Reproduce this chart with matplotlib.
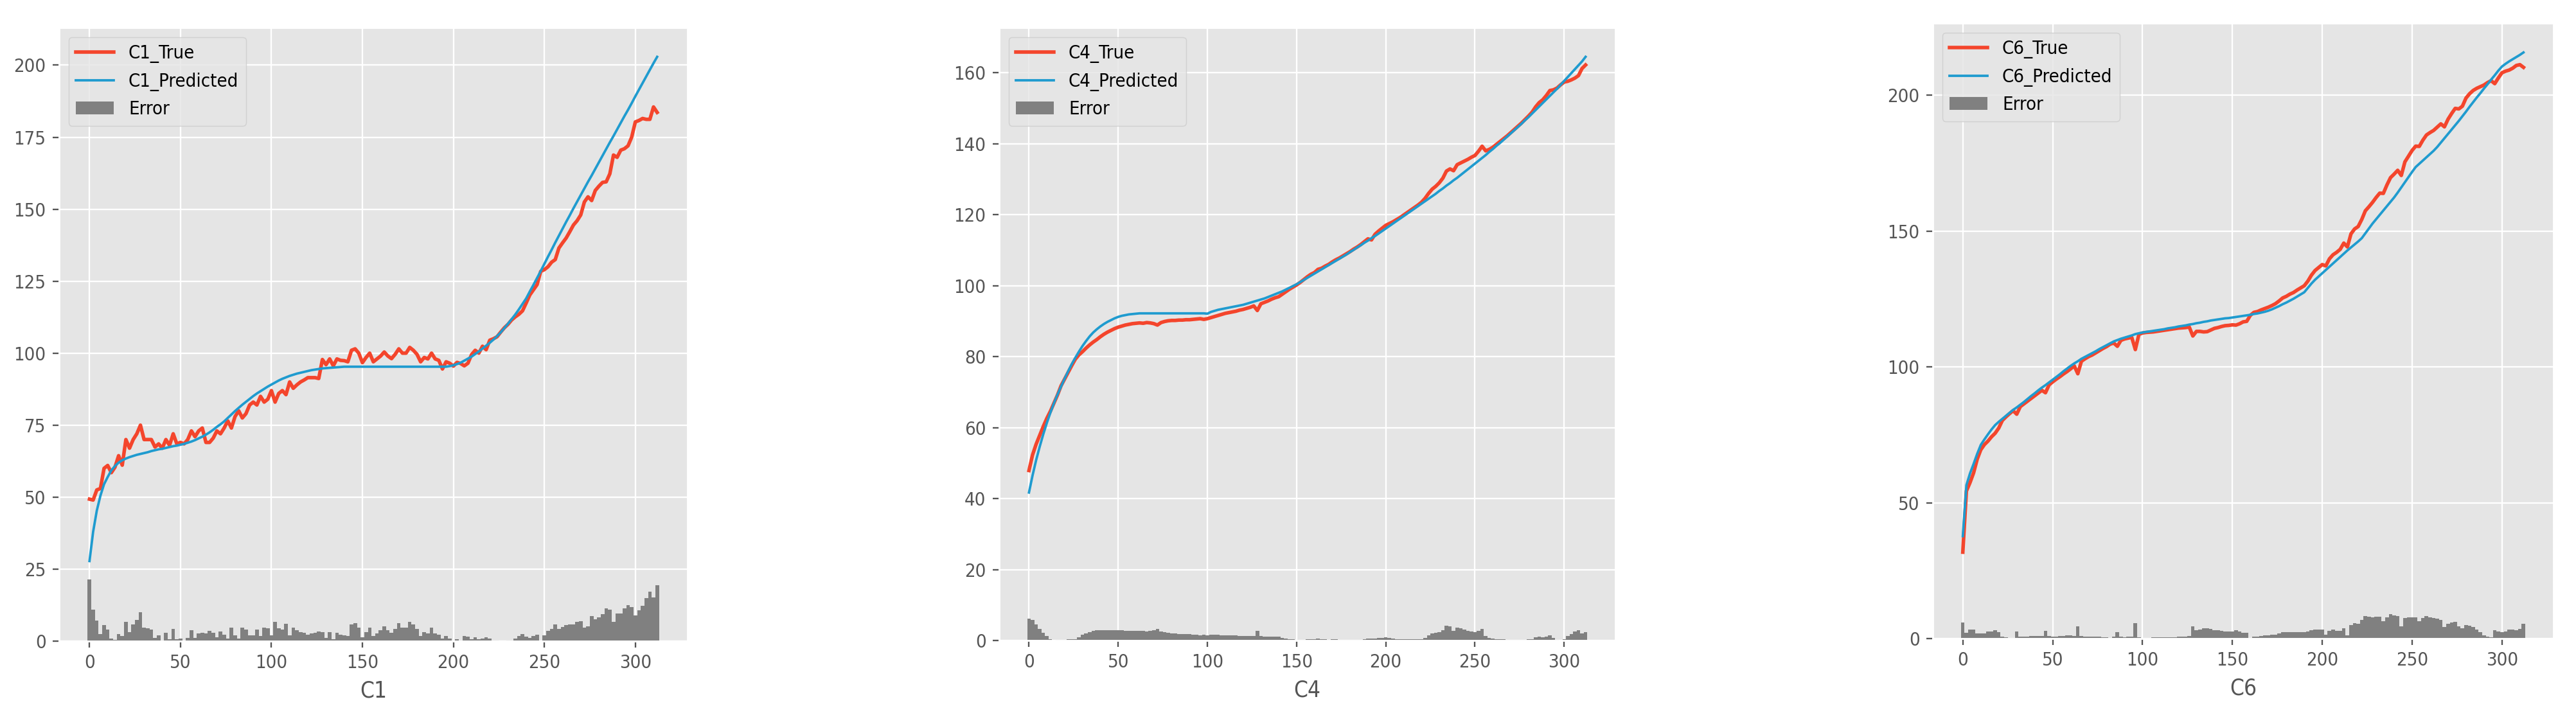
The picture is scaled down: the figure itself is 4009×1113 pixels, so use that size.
import numpy as np
import matplotlib
matplotlib.use('Agg')
import matplotlib.pyplot as plt
from matplotlib.ticker import MultipleLocator

plt.style.use('ggplot')
# the source picture is horizontally squeezed; a condensed face gets closer
plt.rcParams['font.family'] = ['DejaVu Sans']
plt.rcParams['font.stretch'] = 'condensed'

# sample index (every second step of the original series)
x = np.arange(0, 313, 2)

c1_true = [
    49.3, 49.0, 52.5, 53.0, 60.0, 61.0, 58.5, 60.4, 64.4, 61.1,
    70.0, 67.0, 70.0, 72.0, 75.0, 70.0, 70.0, 70.0, 67.4, 68.5,
    67.0, 70.0, 68.0, 72.0, 68.5, 69.0, 68.5, 70.0, 73.0, 71.0,
    73.0, 74.0, 69.0, 69.0, 70.5, 73.0, 72.0, 74.0, 76.5, 74.0,
    78.0, 80.0, 77.5, 79.0, 82.0, 83.0, 82.0, 85.0, 83.0, 84.0,
    87.0, 83.0, 86.0, 87.0, 85.6, 90.0, 87.8, 89.0, 90.0, 90.7,
    91.5, 91.5, 91.5, 91.2, 97.8, 96.0, 98.0, 95.6, 98.0, 97.5,
    97.4, 97.0, 101.0, 101.5, 100.0, 96.7, 98.5, 100.0, 97.0, 98.0,
    99.0, 100.4, 99.0, 98.1, 99.6, 101.5, 100.0, 100.0, 102.0, 101.0,
    99.6, 97.0, 98.5, 98.0, 100.0, 98.0, 97.5, 94.5, 97.0, 96.5,
    95.5, 96.8, 96.4, 95.6, 96.5, 99.5, 101.0, 100.0, 102.4, 101.2,
    104.5, 105.0, 105.7, 107.3, 108.8, 110.0, 111.5, 112.6, 113.5, 114.7,
    117.4, 120.2, 122.0, 123.8, 128.4, 129.0, 130.0, 131.6, 132.5, 136.5,
    138.3, 140.0, 142.2, 144.5, 146.0, 148.0, 152.5, 154.3, 153.0, 156.5,
    158.0, 159.3, 159.5, 162.3, 168.8, 168.0, 170.5, 171.0, 172.0, 175.0,
    180.3, 180.8, 181.5, 181.2, 181.2, 185.5, 183.6,
]
c1_pred = [
    27.8, 38.0, 45.3, 50.5, 54.5, 57.0, 59.3, 60.8, 62.0, 62.8,
    63.4, 63.9, 64.3, 64.7, 65.0, 65.3, 65.6, 66.0, 66.3, 66.6,
    66.8, 67.1, 67.4, 67.7, 67.9, 68.2, 68.5, 68.9, 69.3, 69.8,
    70.4, 71.0, 71.7, 72.5, 73.4, 74.4, 75.3, 76.3, 77.5, 78.7,
    79.9, 81.0, 82.1, 83.1, 84.1, 85.1, 86.0, 86.8, 87.6, 88.4,
    89.1, 89.8, 90.5, 91.1, 91.6, 92.1, 92.5, 92.9, 93.2, 93.5,
    93.8, 94.1, 94.3, 94.5, 94.7, 94.8, 94.9, 95.0, 95.1, 95.2,
    95.3, 95.3, 95.3, 95.3, 95.3, 95.3, 95.3, 95.3, 95.3, 95.3,
    95.3, 95.3, 95.3, 95.3, 95.3, 95.3, 95.3, 95.3, 95.3, 95.3,
    95.3, 95.3, 95.3, 95.3, 95.3, 95.3, 95.3, 95.3, 95.3, 95.5,
    95.8, 96.2, 96.7, 97.4, 98.1, 98.8, 99.7, 100.6, 101.6, 102.6,
    103.6, 104.7, 105.9, 107.2, 108.7, 110.2, 111.8, 113.4, 115.2, 117.1,
    119.0, 121.4, 123.7, 126.1, 128.5, 131.0, 133.5, 135.9, 138.4, 140.8,
    143.2, 145.6, 147.9, 150.3, 152.6, 154.9, 157.2, 159.5, 161.7, 164.0,
    166.3, 168.6, 170.9, 173.2, 175.4, 177.7, 180.0, 182.3, 184.5, 186.8,
    189.2, 191.5, 193.8, 196.1, 198.4, 200.7, 202.9,
]

c4_true = [
    47.9, 52.3, 55.3, 57.8, 60.3, 62.6, 64.6, 66.9, 69.2, 71.8,
    73.7, 75.6, 77.5, 79.3, 80.5, 81.4, 82.4, 83.3, 84.1, 84.8,
    85.6, 86.3, 86.9, 87.4, 87.9, 88.3, 88.6, 88.9, 89.1, 89.3,
    89.4, 89.5, 89.4, 89.6, 89.5, 89.3, 88.9, 89.6, 89.9, 90.1,
    90.2, 90.2, 90.3, 90.3, 90.4, 90.4, 90.5, 90.6, 90.7, 90.5,
    90.7, 91.0, 91.3, 91.6, 91.9, 92.2, 92.4, 92.6, 92.8, 93.1,
    93.3, 93.6, 93.9, 94.3, 93.0, 94.9, 95.3, 95.7, 96.2, 96.6,
    96.9, 97.6, 98.3, 99.0, 99.6, 100.2, 100.9, 101.7, 102.5, 103.2,
    103.7, 104.6, 104.9, 105.5, 106.0, 106.7, 107.3, 107.8, 108.4, 109.0,
    109.6, 110.3, 110.9, 111.6, 112.4, 113.2, 112.9, 114.5, 115.4, 116.2,
    117.0, 117.5, 118.0, 118.6, 119.2, 119.9, 120.6, 121.3, 122.0, 122.7,
    123.5, 124.6, 126.0, 127.2, 128.0, 129.0, 130.3, 132.3, 132.9, 132.4,
    134.1, 134.6, 135.1, 135.6, 136.2, 136.7, 137.9, 139.3, 138.0, 138.4,
    139.0, 139.8, 140.6, 141.4, 142.2, 143.1, 144.0, 144.9, 145.8, 146.8,
    147.8, 148.9, 150.4, 151.6, 152.4, 153.6, 155.0, 155.2, 155.7, 156.6,
    157.4, 157.6, 158.0, 158.5, 159.2, 161.2, 162.2,
]
c4_pred = [
    41.7, 46.5, 50.8, 54.6, 58.1, 61.3, 64.2, 66.9, 69.3, 71.6,
    73.8, 75.9, 77.9, 79.7, 81.4, 83.0, 84.4, 85.7, 86.8, 87.7,
    88.5, 89.2, 89.8, 90.3, 90.8, 91.2, 91.5, 91.7, 91.9, 92.0,
    92.1, 92.2, 92.2, 92.2, 92.2, 92.2, 92.2, 92.2, 92.2, 92.2,
    92.2, 92.2, 92.2, 92.2, 92.2, 92.2, 92.2, 92.2, 92.2, 92.2,
    92.1, 92.6, 92.9, 93.2, 93.4, 93.6, 93.8, 94.0, 94.2, 94.4,
    94.6, 94.9, 95.2, 95.5, 95.8, 96.1, 96.4, 96.8, 97.2, 97.6,
    98.0, 98.4, 98.9, 99.4, 99.9, 100.4, 101.0, 101.6, 102.2, 102.8,
    103.4, 104.0, 104.6, 105.2, 105.8, 106.4, 107.0, 107.6, 108.2, 108.8,
    109.5, 110.1, 110.8, 111.4, 112.1, 112.7, 113.4, 114.0, 114.7, 115.4,
    116.1, 116.8, 117.5, 118.2, 118.9, 119.6, 120.3, 121.0, 121.7, 122.4,
    123.1, 123.8, 124.5, 125.2, 125.9, 126.7, 127.4, 128.2, 128.9, 129.7,
    130.4, 131.2, 132.0, 132.8, 133.6, 134.4, 135.2, 136.0, 136.8, 137.7,
    138.5, 139.4, 140.2, 141.1, 142.0, 142.9, 143.8, 144.7, 145.6, 146.6,
    147.5, 148.5, 149.5, 150.5, 151.5, 152.5, 153.5, 154.5, 155.5, 156.6,
    157.7, 158.8, 159.9, 161.0, 162.1, 163.2, 164.5,
]

c6_true = [
    31.8, 54.3, 57.4, 61.0, 66.0, 69.5, 71.4, 72.7, 74.3, 75.6,
    77.5, 80.3, 81.6, 82.8, 83.9, 82.6, 85.4, 86.4, 87.4, 88.4,
    89.4, 90.4, 91.4, 90.5, 93.4, 94.5, 95.5, 96.4, 97.4, 98.3,
    99.3, 100.4, 97.5, 102.1, 103.0, 103.8, 104.4, 105.2, 106.0, 106.8,
    107.5, 108.4, 108.8, 107.6, 109.8, 110.3, 110.6, 110.9, 106.4, 112.0,
    112.5, 112.7, 112.8, 112.9, 113.1, 113.3, 113.5, 113.7, 113.9, 114.1,
    114.3, 114.4, 114.5, 114.7, 111.4, 113.1, 113.1, 112.9, 113.0, 113.6,
    114.2, 114.5, 114.9, 115.2, 115.3, 115.5, 115.4, 115.9, 116.6, 116.8,
    119.0, 120.1, 120.4, 121.0, 121.5, 122.0, 122.6, 123.3, 124.3, 125.4,
    126.0, 126.8, 127.4, 128.3, 129.1, 129.9, 131.6, 133.8, 135.5, 136.6,
    137.7, 137.2, 139.8, 141.3, 142.2, 143.3, 145.6, 144.2, 149.0, 150.8,
    151.7, 154.3, 157.5, 159.0, 160.6, 162.4, 164.0, 163.9, 167.0, 169.7,
    171.0, 172.4, 170.5, 175.5, 177.6, 179.7, 181.3, 181.2, 183.5, 185.4,
    186.3, 187.1, 188.3, 189.5, 188.4, 191.2, 193.3, 195.2, 195.0, 196.0,
    199.0, 200.6, 201.8, 202.6, 203.2, 203.8, 204.7, 205.4, 204.3, 206.4,
    208.3, 208.9, 209.3, 210.0, 211.0, 211.3, 210.3,
]
c6_pred = [
    37.7, 56.5, 60.8, 64.3, 68.0, 71.3, 73.3, 75.2, 77.0, 78.6,
    79.8, 80.9, 82.0, 83.1, 84.2, 85.1, 86.1, 87.1, 88.2, 89.3,
    90.3, 91.4, 92.4, 93.3, 94.3, 95.3, 96.3, 97.3, 98.4, 99.4,
    100.4, 101.3, 102.1, 103.0, 103.7, 104.4, 105.1, 105.8, 106.6, 107.3,
    108.0, 108.7, 109.4, 109.9, 110.4, 110.8, 111.2, 111.6, 112.1, 112.4,
    112.7, 112.9, 113.1, 113.3, 113.5, 113.7, 113.9, 114.2, 114.4, 114.6,
    114.9, 115.1, 115.3, 115.6, 115.8, 116.1, 116.3, 116.6, 116.8, 117.1,
    117.3, 117.5, 117.7, 117.9, 118.0, 118.2, 118.4, 118.6, 118.8, 119.0,
    119.2, 119.5, 119.7, 120.0, 120.3, 120.7, 121.2, 121.8, 122.4, 123.1,
    123.7, 124.4, 125.1, 125.9, 126.7, 127.5, 129.1, 130.7, 132.1, 133.3,
    134.5, 135.7, 136.9, 138.1, 139.3, 140.5, 141.7, 142.9, 144.0, 145.1,
    146.2, 147.4, 149.2, 151.0, 152.8, 154.4, 156.0, 157.6, 159.2, 160.8,
    162.4, 164.2, 166.1, 168.0, 169.9, 171.8, 173.6, 174.8, 176.0, 177.2,
    178.4, 179.6, 181.0, 182.6, 184.2, 185.8, 187.4, 189.0, 190.6, 192.3,
    194.0, 195.8, 197.5, 199.2, 200.8, 202.5, 204.1, 205.8, 207.4, 209.1,
    210.6, 211.6, 212.5, 213.3, 214.1, 214.9, 215.8,
]

names = ['C1', 'C4', 'C6']
trues = [c1_true, c4_true, c6_true]
preds = [c1_pred, c4_pred, c6_pred]
ysteps = [25, 20, 50]

# axes rectangles in figure fractions (left, bottom, width, height)
rects = [
    [0.02295, 0.10332, 0.24395, 0.85804],
    [0.38788, 0.10422, 0.23921, 0.85714],
    [0.75031, 0.10692, 0.24096, 0.86074],
]

fig = plt.figure(figsize=(4009 / 210, 1113 / 210), dpi=210)

for name, yt, yp, step, rect in zip(names, trues, preds, ysteps, rects):
    ax = fig.add_axes(rect)
    yt = np.array(yt)
    yp = np.array(yp)
    err = np.abs(yt - yp)
    ax.plot(x, yt, color='#F4452C', lw=1.9, label=name + '_True')
    ax.plot(x, yp, color='#1F9BCF', lw=1.3, label=name + '_Predicted')
    ax.bar(x, err, width=2.0, color='grey', linewidth=0, label='Error')
    ax.yaxis.set_major_locator(MultipleLocator(step))
    ax.set_xlabel(name)
    ax.legend(loc='upper left')

fig.savefig('out.png', dpi=210)
